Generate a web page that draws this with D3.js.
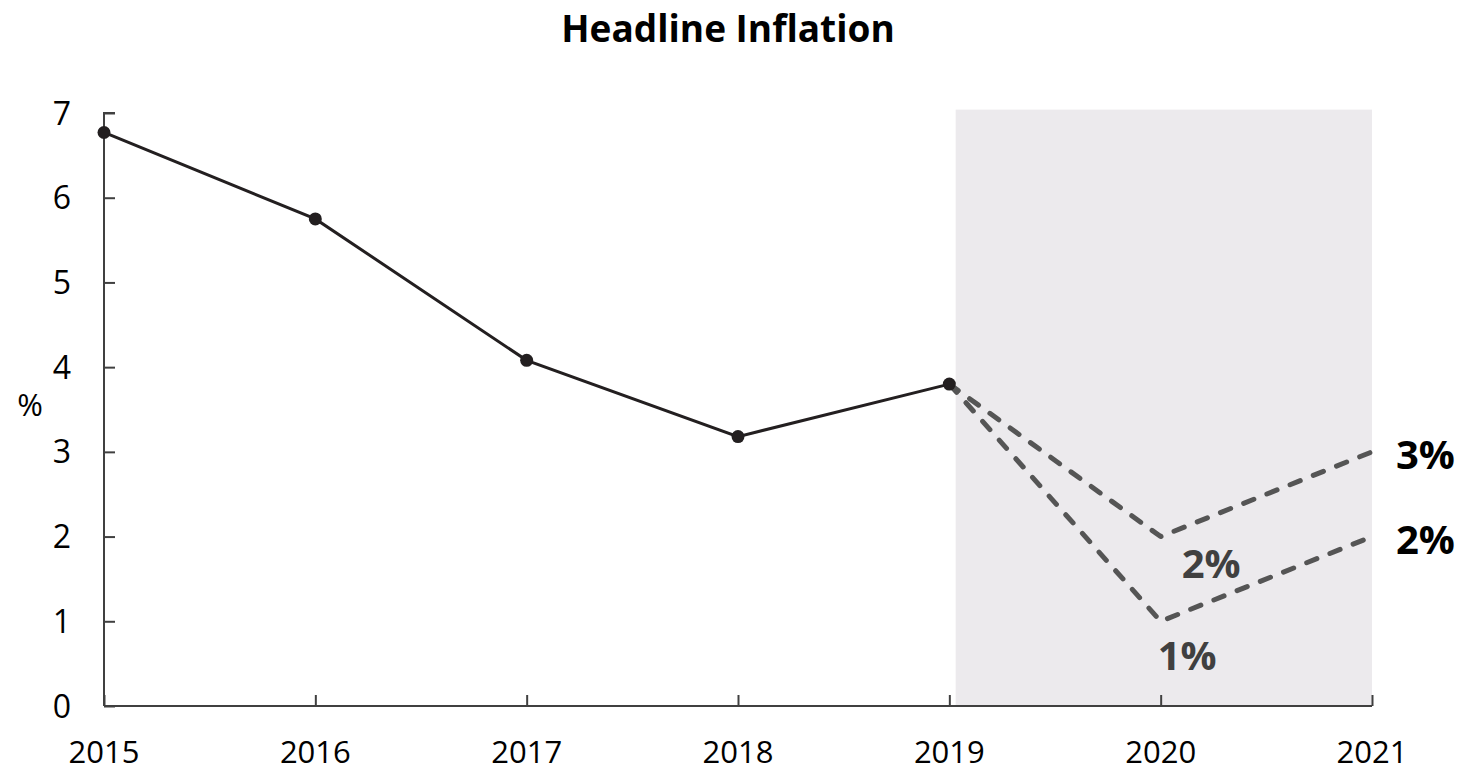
<!DOCTYPE html>
<html><head><meta charset="utf-8">
<script src="https://cdn.jsdelivr.net/npm/d3@7"></script>
<style>body{margin:0;background:#fff;}svg{display:block;font-family:"Open Sans",sans-serif;}</style>
</head><body><svg id="c" width="1463" height="772"></svg>
<script>
const years = [2015, 2016, 2017, 2018, 2019, 2020, 2021];
const actualYears = [2015, 2016, 2017, 2018, 2019];
const actualValues = [6.77, 5.75, 4.08, 3.18, 3.80];
const highYears = [2019, 2020, 2021];
const highValues = [3.80, 2.0, 3.0];
const lowYears = [2019, 2020, 2021];
const lowValues = [3.80, 1.0, 2.0];
const yTicks = [0, 1, 2, 3, 4, 5, 6, 7];
const forecastSpan = [2019.03, 2021];
const shadeTop = 7.04;

const svg = d3.select("#c");
const x = d3.scaleLinear().domain([2015, 2021]).range([104, 1372]);
const y = d3.scaleLinear().domain([0, 7]).range([706, 113]);

svg.append("rect")
  .attr("x", x(forecastSpan[0])).attr("y", y(shadeTop))
  .attr("width", x(forecastSpan[1]) - x(forecastSpan[0]))
  .attr("height", y(0) - y(shadeTop))
  .attr("fill", "#ECEAED");

// axes
const yAxis = d3.axisRight(y).tickValues(yTicks).tickSize(11).tickFormat("");
const gy = svg.append("g").attr("transform", `translate(${x(2015)},0)`).call(yAxis);
gy.select(".domain").attr("d", `M11,${y(7)}H0V${y(0)}`);
const xAxis = d3.axisTop(x).tickValues(years).tickSize(11).tickFormat("");
const gx = svg.append("g").attr("transform", `translate(0,${y(0)})`).call(xAxis);
gx.select(".domain").attr("d", `M${x(2015)},0H${x(2021)}`);
svg.selectAll(".domain, .tick line").attr("stroke", "#404040").attr("stroke-width", 2);

svg.selectAll(".ylab").data(yTicks).enter().append("text")
  .attr("x", 71).attr("y", d => y(d)).attr("dy", "0.36em")
  .attr("text-anchor", "end").attr("font-size", 32).attr("fill", "#000").text(d => d);
svg.selectAll(".xlab").data(years).enter().append("text")
  .attr("x", d => x(d)).attr("y", 763)
  .attr("text-anchor", "middle").attr("font-size", 31).attr("fill", "#000").text(d => d);
svg.append("text").attr("x", 30).attr("y", 405).attr("dy", "0.36em").attr("text-anchor", "middle")
  .attr("font-size", 31).text("%");
svg.append("text").attr("x", 728).attr("y", 42).attr("text-anchor", "middle")
  .attr("font-size", 37).attr("font-weight", "bold").text("Headline Inflation");

const line = d3.line().x(d => x(d[0])).y(d => y(d[1]));
const dash = (ys, vs) => svg.append("path").datum(ys.map((v, i) => [v, vs[i]]))
  .attr("d", line).attr("fill", "none").attr("stroke", "#555555")
  .attr("stroke-width", 5).attr("stroke-linecap", "round").attr("stroke-linejoin", "round")
  .attr("stroke-dasharray", "11,14");
dash(highYears, highValues);
dash(lowYears, lowValues);

svg.append("path").datum(actualYears.map((v, i) => [v, actualValues[i]]))
  .attr("d", line).attr("fill", "none").attr("stroke", "#231F20").attr("stroke-width", 3);
svg.selectAll(".pt").data(actualYears).enter().append("circle")
  .attr("cx", d => x(d)).attr("cy", (d, i) => y(actualValues[i])).attr("r", 6.5).attr("fill", "#231F20");

// labels
const lbl = (xv, yv, t, col, dx, dy) => svg.append("text").attr("x", x(xv) + dx).attr("y", y(yv) + dy)
  .attr("font-size", 40).attr("font-weight", "bold").attr("fill", col).text(t);
lbl(2021, highValues[2], "3%", "#000", 24, 17);
lbl(2021, lowValues[2], "2%", "#000", 24, 17);
lbl(2020, highValues[1], "2%", "#404040", 21, 41);
lbl(2020, lowValues[1], "1%", "#404040", -3, 49);
</script></body></html>
